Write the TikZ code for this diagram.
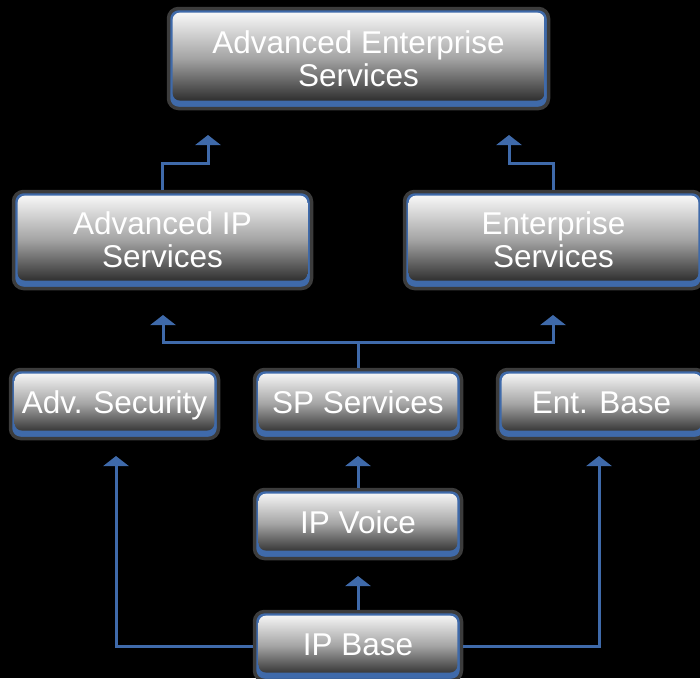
\documentclass[tikz,border=0pt]{standalone}
\usepackage{fontspec}
\setmainfont{Liberation Sans}
\usetikzlibrary{arrows.meta,calc}
\definecolor{linkblue}{HTML}{3F6AAA}
\definecolor{rimgray}{HTML}{3C3C3C}
\tikzset{
  box/.style={rectangle, rounded corners=10pt, draw=rimgray, line width=3.5pt,
    fill=linkblue, inner sep=0pt, align=center, text=white,
    font=\fontsize{31.5}{33}\selectfont,
    path picture={
      \shade[rounded corners=7pt, top color=white, bottom color=black!90,
        middle color=white!64!black]
        ([shift={(4.2pt,-4.2pt)}]path picture bounding box.north west)
        rectangle ([shift={(-4.2pt,8pt)}]path picture bounding box.south east);
    }},
  onebox/.style={box, minimum width=207pt, minimum height=69pt, text height=23pt, text depth=5pt},
  link/.style={draw=linkblue, line width=3pt, -{Triangle[width=25pt,length=10pt]}},
}
\begin{document}
\begin{tikzpicture}[x=1pt,y=-1pt]
\useasboundingbox (0,0) rectangle (700,678);
\fill[black] (0,0) rectangle (700,678);
\begin{scope}
\clip (0,0) rectangle (700,678);
\node[box, minimum width=380pt, minimum height=100pt] (aes) at (358.5,58.5) {Advanced Enterprise\\Services};
\node[box, minimum width=298pt, minimum height=97pt] (aip) at (162.5,240) {Advanced IP\\Services};
\node[box, minimum width=298pt, minimum height=97pt] (es) at (553.5,240) {Enterprise\\Services};
\node[onebox, minimum width=208pt] (advsec) at (114.5,404) {Adv.\kern-1pt{} Security};
\node[onebox] (sp) at (358,404) {SP Services};
\node[onebox, minimum width=208pt] (ent) at (601.5,404) {Ent. Base};
\node[onebox] (ipv) at (358,524) {IP Voice};
\node[onebox] (ipb) at (358,646) {IP Base};

\coordinate (t1) at (208,135);
\coordinate (t2) at (509,135);
\coordinate (t3) at (163,315);
\coordinate (t4) at (553,315);
\coordinate (t5) at (358,456);
\coordinate (t6) at (358,576);
\coordinate (t7) at (116,456);
\coordinate (t8) at (599,456);
\coordinate (j1) at (358,342);

\draw[link] (aip.north) |- ($(t1)+(0,28)$) -- (t1);
\draw[link] (es.north) |- ($(t2)+(0,28)$) -- (t2);
\draw[draw=linkblue, line width=3pt] (sp.north) -- (j1);
\draw[link] (j1) -| (t3);
\draw[link] (j1) -| (t4);
\draw[link] (ipv.north) -- (t5);
\draw[link] (ipb.north) -- (t6);
\draw[link] (ipb.west) -| (t7);
\draw[link] (ipb.east) -| (t8);
\end{scope}
\end{tikzpicture}
\end{document}
